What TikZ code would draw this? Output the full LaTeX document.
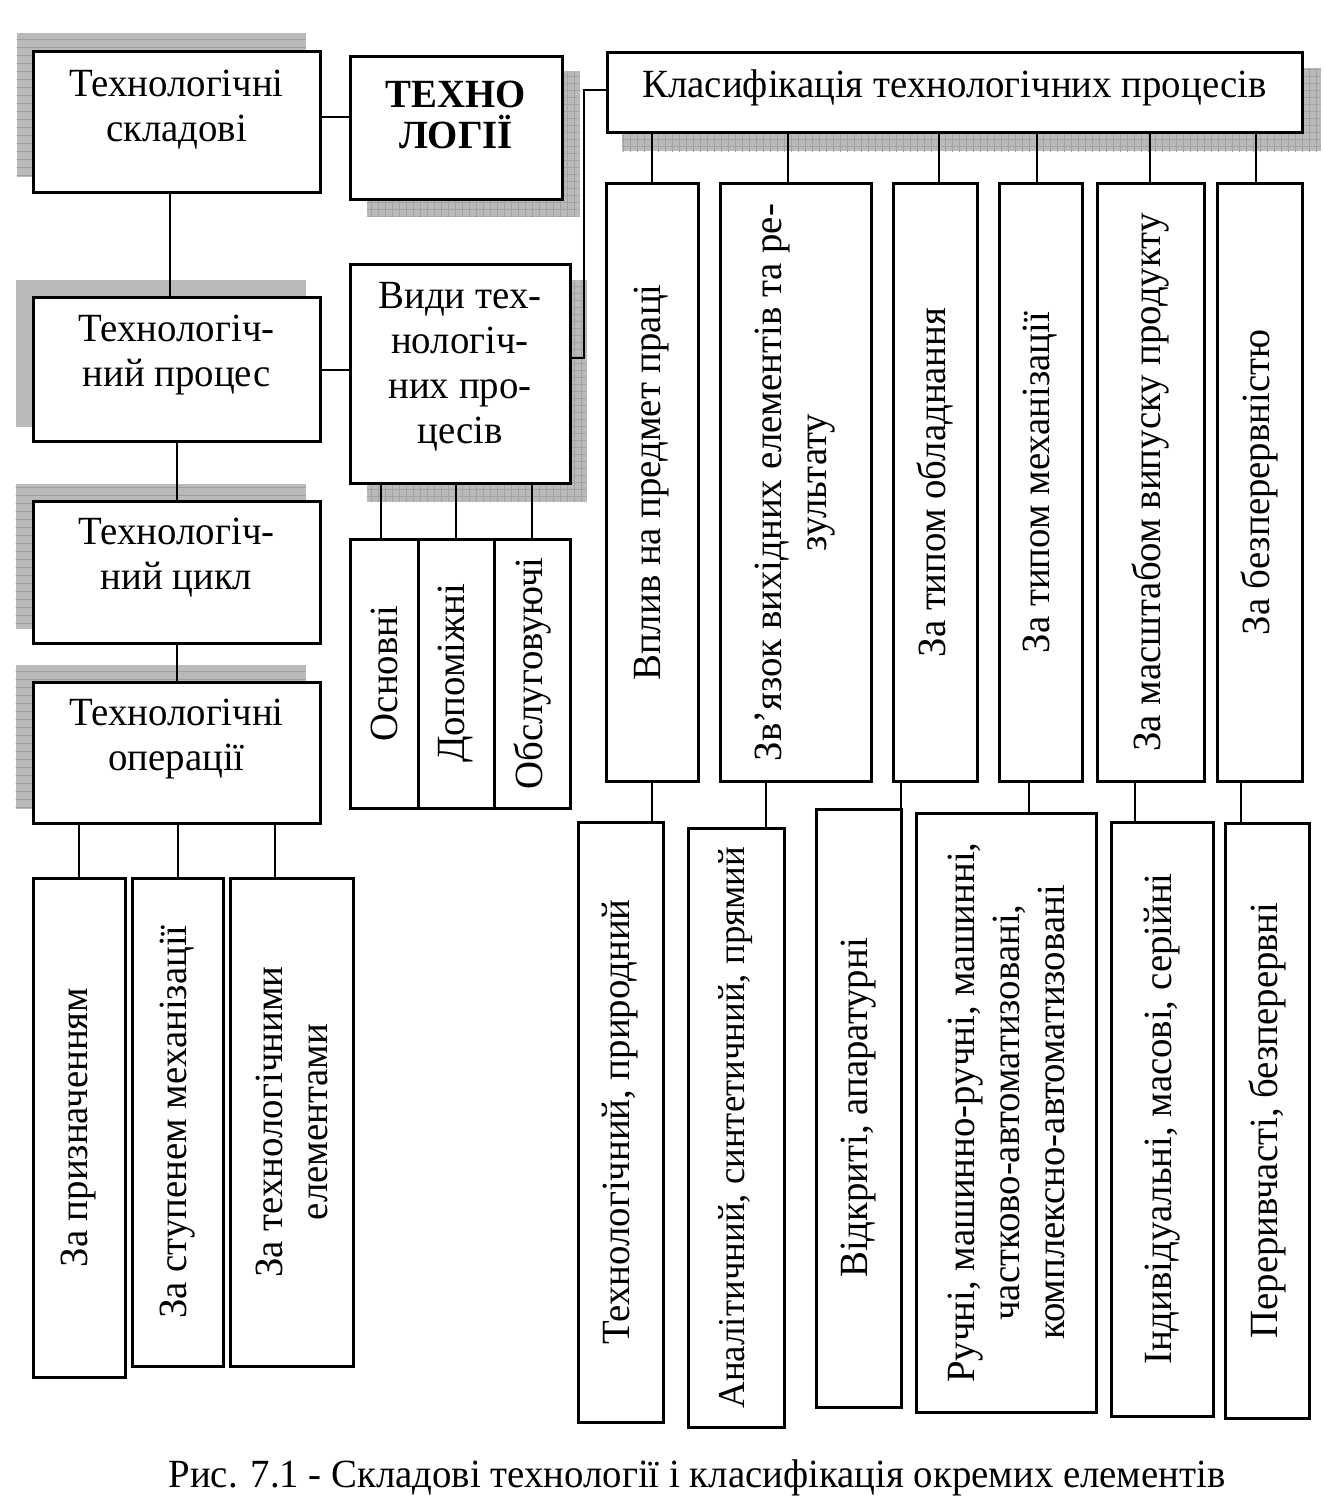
\documentclass[tikz,border=0pt]{standalone}
\usepackage{fontspec}
\setmainfont{Liberation Serif}[FakeStretch=0.97]
\usetikzlibrary{backgrounds,patterns.meta}
\begin{document}
\begin{tikzpicture}[x=1pt,y=1pt,
  box/.style={draw, line width=3pt, fill=white, inner sep=0pt},
  txt/.style={font=\fontsize{40}{45}\selectfont, align=center, inner sep=0pt},
  btxt/.style={align=center, inner sep=0pt, font=\fontsize{40}{41}\selectfont\bfseries},
  rtxt/.style={txt, rotate=90},
  conn/.style={line width=2pt},
  shsolid/.style={fill=black!27},
  shstripe/.style={fill=black!27, postaction={pattern={Lines[angle=0,distance=8pt,line width=0.8pt]}, pattern color=black!38}},
  shgrid/.style={fill=black!27, postaction={pattern={Lines[angle=0,distance=7pt,line width=0.8pt]}, pattern color=black!36}, postaction={pattern={Lines[angle=90,distance=7pt,line width=0.8pt]}, pattern color=black!36}},
]
\useasboundingbox (0,0) rectangle (1323,-1511);

% left column
\node[box, minimum width=287, minimum height=141] (b1) at (176.5,-122.5) {};
\node[box, minimum width=287, minimum height=143] (b2) at (176.5,-369.5) {};
\node[box, minimum width=287, minimum height=142] (b3) at (176.5,-572) {};
\node[box, minimum width=287, minimum height=141] (b4) at (176.5,-752.5) {};
\node[txt] (t1) at ([yshift=12.5]b1.center) {Технологічні\\складові};
\node[txt] (t2) at ([yshift=14.5]b2.center) {Технологіч-\\ний процес};
\node[txt] (t3) at ([yshift=14]b3.center) {Технологіч-\\ний цикл};
\node[txt] (t4) at ([yshift=13.5]b4.center) {Технологічні\\операції};

\node[box, minimum width=92, minimum height=499] (l1) at (79,-1127.5) {};
\node[box, minimum width=91, minimum height=488] (l2) at (177.5,-1122) {};
\node[box, minimum width=123, minimum height=488] (l3) at (291.5,-1122) {};
\node[rtxt] (tl1) at (l1.center) {За призначенням};
\node[rtxt] (tl2) at (l2.center) {За ступенем механізації};
\node[rtxt] (tl3) at (l3.center) {За технологічними\\елементами};

% middle column
\node[box, minimum width=212, minimum height=143] (techno) at (456,-128.5) {};
\node[btxt] (tt) at ([yshift=13.5]techno.center) {ТЕХНО\\ЛОГІЇ};
\node[box, minimum width=220, minimum height=218] (vydy) at (460,-374) {};
\node[txt] (tv) at ([yshift=7]vydy.center) {Види тех-\\нологіч-\\них про-\\цесів};
\node[box, minimum width=68, minimum height=269] (s1) at (384,-673.5) {};
\node[box, minimum width=76, minimum height=269] (s2) at (456,-673.5) {};
\node[box, minimum width=76, minimum height=269] (s3) at (532,-673.5) {};
\node[rtxt] (ts1) at (s1.center) {Основні};
\node[rtxt] (ts2) at (s2.center) {Допоміжні};
\node[rtxt] (ts3) at (s3.center) {Обслуговуючі};

% right part
\node[box, minimum width=695, minimum height=80] (klas) at (954.5,-93) {};
\node[txt] (tk) at ([yshift=5]klas.center) {Класифікація технологічних процесів};

\node[box, minimum width=92, minimum height=597] (c1) at (652,-482.5) {};
\node[box, minimum width=151, minimum height=597] (c2) at (795.5,-482.5) {};
\node[box, minimum width=84, minimum height=597] (c3) at (935,-482.5) {};
\node[box, minimum width=83, minimum height=597] (c4) at (1040.5,-482.5) {};
\node[box, minimum width=107, minimum height=597] (c5) at (1150.5,-482.5) {};
\node[box, minimum width=85, minimum height=597] (c6) at (1259.5,-482.5) {};
\node[rtxt] (tc1) at (c1.center) {Вплив на предмет праці};
\node[rtxt] (tc2) at (c2.center) {Зв’язок вихідних елементів та ре-\\зультату};
\node[rtxt] (tc3) at (c3.center) {За типом обладнання};
\node[rtxt] (tc4) at (c4.center) {За типом механізації};
\node[rtxt] (tc5) at (c5.center) {За масштабом випуску продукту};
\node[rtxt] (tc6) at (c6.center) {За безперервністю};

\node[box, minimum width=85, minimum height=600] (d1) at (620.5,-1122) {};
\node[box, minimum width=96, minimum height=599] (d2) at (736,-1127.5) {};
\node[box, minimum width=85, minimum height=598] (d3) at (858.5,-1108) {};
\node[box, minimum width=180, minimum height=599] (d4) at (1006,-1112.5) {};
\node[box, minimum width=102, minimum height=594] (d5) at (1162,-1119) {};
\node[box, minimum width=84, minimum height=595] (d6) at (1267,-1120.5) {};
\node[rtxt] (td1) at (d1.center) {Технологічний, природний};
\node[rtxt, font=\fontsize{38}{45}\selectfont] (td2) at (d2.center) {Аналітичний, синтетичний, прямий};
\node[rtxt] (td3) at (d3.center) {Відкриті, апаратурні};
\node[rtxt] (td4) at (d4.center) {Ручні, машинно-ручні, машинні,\\частково-автоматизовані,\\комплексно-автоматизовані};
\node[rtxt] (td5) at (d5.center) {Індивідуальні, масові, серійні};
\node[rtxt] (td6) at (d6.center) {Переривчасті, безперервні};

\node[txt] (cap) at (697,-1478) {Рис. 7.1 - Складові технології і класифікація окремих елементів};

% connectors
\draw[conn] (b1.east |- 0,-117) -- (techno.west |- 0,-117);
\draw[conn] (b1.south -| 170,0) -- (b2.north -| 170,0);
\draw[conn] (b2.south -| 177,0) -- (b3.north -| 177,0);
\draw[conn] (b3.south -| 177,0) -- (b4.north -| 177,0);
\draw[conn] (b4.south -| l1.north) -- (l1.north);
\draw[conn] (b4.south -| l2.north) -- (l2.north);
\draw[conn] (b4.south -| 275,0) -- (l3.north -| 275,0);
\draw[conn] (b2.east |- 0,-370) -- (vydy.west |- 0,-370);
\draw[conn] (vydy.south -| 381,0) -- (s1.north -| 381,0);
\draw[conn] (vydy.south -| s2.north) -- (s2.north);
\draw[conn] (vydy.south -| s3.north) -- (s3.north);
\coordinate (elb) at (584,-90);
\draw[conn] (klas.west |- elb) -- (elb) |- (vydy.east |- 0,-358);
\foreach \c/\x in {c1/652,c2/788,c3/939,c4/1037,c5/1150,c6/1256}
  \draw[conn] (klas.south -| \x,0) -- (\c.north -| \x,0);
\foreach \c/\d/\x in {c1/d1/652,c2/d2/766,c3/d3/901,c4/d4/1029,c5/d5/1135,c6/d6/1241}
  \draw[conn] (\c.south -| \x,0) -- (\d.north -| \x,0);

% shadows
\begin{pgfonlayer}{background}
\fill[shstripe] ([shift={(-15,17)}]b1.south west) rectangle ([shift={(-16,17)}]b1.north east);
\fill[shsolid] ([shift={(-16,16)}]b2.south west) rectangle ([shift={(-16,16)}]b2.north east);
\fill[shstripe] ([shift={(-16,16)}]b3.south west) rectangle ([shift={(-16,16)}]b3.north east);
\fill[shstripe] ([shift={(-16,16)}]b4.south west) rectangle ([shift={(-16,16)}]b4.north east);
\fill[shgrid] ([shift={(18,-15)}]techno.south west) rectangle ([shift={(16,-16)}]techno.north east);
\fill[shgrid] ([shift={(18,-17)}]vydy.south west) rectangle ([shift={(15,-17)}]vydy.north east);
\fill[shgrid] ([shift={(16,-17)}]klas.south west) rectangle ([shift={(17,-17)}]klas.north east);
\end{pgfonlayer}
\end{tikzpicture}
\end{document}
